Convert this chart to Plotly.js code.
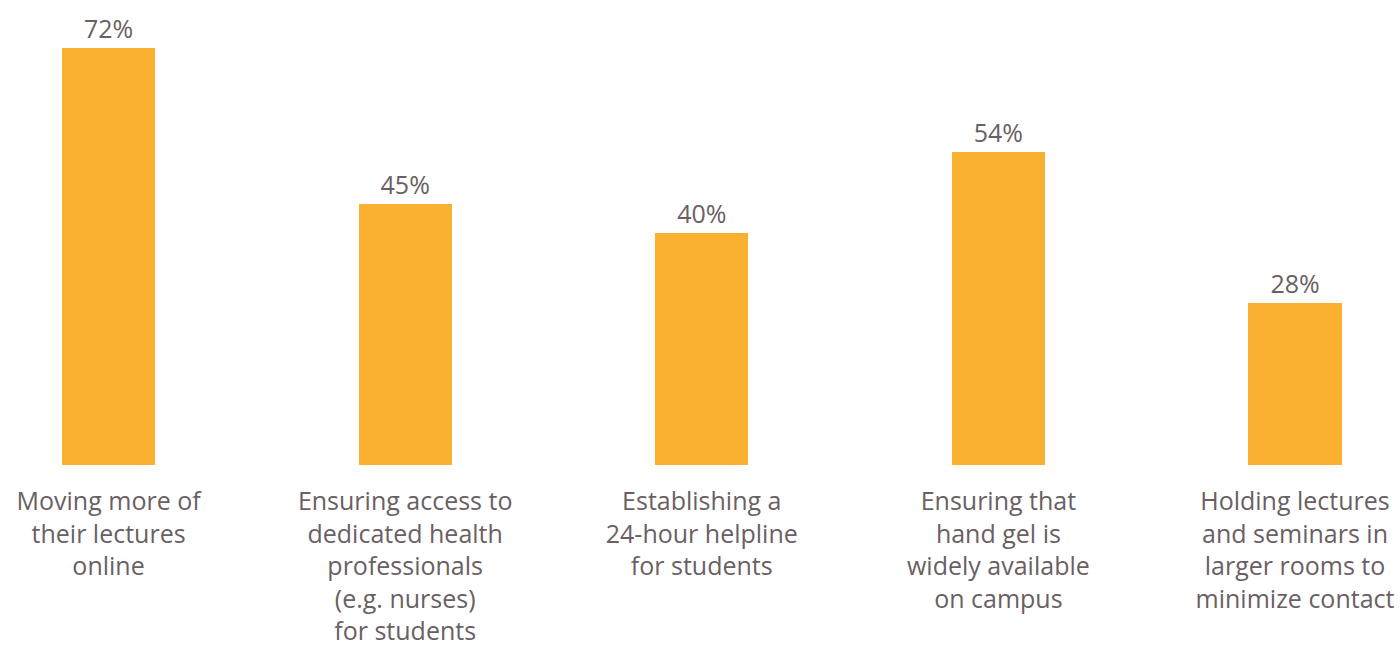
<!DOCTYPE html>
<html>
<head>
<meta charset="utf-8">
<script src="https://cdn.plot.ly/plotly-3.0.1.min.js"></script>
<style>html,body{margin:0;padding:0;background:#fff;}#chart{width:1400px;height:649px;}</style>
</head>
<body>
<div id="chart"></div>
<script>
const categories = [
  "Moving more of<br>their lectures<br>online",
  "Ensuring access to<br>dedicated health<br>professionals<br>(e.g. nurses)<br>for students",
  "Establishing a<br>24-hour helpline<br>for students",
  "Ensuring that<br>hand gel is<br>widely available<br>on campus",
  "Holding lectures<br>and seminars in<br>larger rooms to<br>minimize contact"
];
const values = [72, 45, 40, 54, 28];
const valueLabels = values.map(v => v + "%");

const textColor = "#6a5f63";
const trace = {
  type: "bar",
  x: [0, 1, 2, 3, 4],
  y: values,
  text: valueLabels,
  textposition: "outside",
  textfont: {family: "Open Sans", size: 25, color: textColor},
  cliponaxis: false,
  marker: {color: "#FAB12F"},
  width: 0.314,
  hoverinfo: "none"
};
const layout = {
  width: 1400, height: 649,
  margin: {l: 0, r: 0, t: 10, b: 184},
  paper_bgcolor: "#fff", plot_bgcolor: "#fff",
  showlegend: false,
  bargap: 0,
  xaxis: {
    range: [-0.366, 4.354],
    tickmode: "array",
    tickvals: [0, 1, 2, 3, 4],
    ticktext: categories,
    showgrid: false, zeroline: false, showline: false, ticks: "",
    tickfont: {family: "Open Sans", size: 25, color: textColor},
    ticklabelstandoff: 19
  },
  yaxis: {
    range: [0, 78.56],
    visible: false,
    showgrid: false, zeroline: false
  }
};
Plotly.newPlot("chart", [trace], layout, {displayModeBar: false, staticPlot: true});
</script>
</body>
</html>
